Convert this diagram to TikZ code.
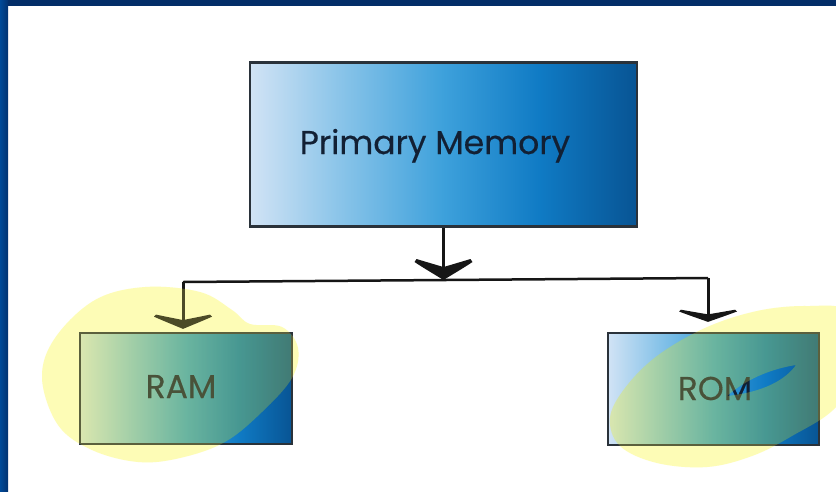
\documentclass[tikz,border=0pt]{standalone}
\usepackage{fontspec}
\setmainfont{Poppins}[FakeBold=0.4]
\usetikzlibrary{arrows.meta}
\definecolor{frametop}{RGB}{3,46,104}
\definecolor{frameL}{RGB}{0,74,152}
\definecolor{frameR}{RGB}{2,50,112}
\definecolor{boxline}{RGB}{42,50,58}
\definecolor{inkline}{RGB}{22,22,22}
\definecolor{labelink}{RGB}{18,32,52}
\definecolor{hlbase}{RGB}{255,255,205}
\definecolor{hltop}{RGB}{250,245,110}
\pgfdeclarehorizontalshading{memshade}{100bp}{
  rgb(0bp)=(0.82,0.89,0.96);
  rgb(25bp)=(0.82,0.89,0.96);
  rgb(37.5bp)=(0.52,0.76,0.91);
  rgb(50bp)=(0.24,0.63,0.86);
  rgb(62.5bp)=(0.06,0.48,0.77);
  rgb(75bp)=(0.03,0.33,0.58);
  rgb(100bp)=(0.03,0.33,0.58)}
\tikzset{
  membox/.style={draw=boxline, line width=2.2pt, shading=memshade, inner sep=0pt},
  boxlabel/.style={text=labelink, font=\fontsize{33}{40}\selectfont, inner sep=0pt, anchor=base},
  conn/.style={draw=inkline, line width=3pt},
  hconn/.style={draw=inkline, line width=2.5pt},
  arrowhead/.pic={
    \fill[inkline] (0,0) .. controls (-8,-5) and (-20,-12) .. (-29,-18)
      -- (-27,-21) .. controls (-17,-18) and (-7,-15) .. (0,-13)
      .. controls (7,-15) and (17,-18) .. (27,-21)
      -- (29,-18) .. controls (20,-12) and (8,-5) .. (0,0) -- cycle;
  },
}
\begin{document}
\begin{tikzpicture}[x=1pt,y=-1pt]
\useasboundingbox (0,0) rectangle (836,491);
\clip (0,0) rectangle (836,491);
\fill[white] (0,0) rectangle (836,491);
% frame
\fill[frametop] (0,0) rectangle (836,6);
\shade[left color=frameL, right color=frameR] (0,0) rectangle (8,491);

% boxes
\node[membox, minimum width=387pt, minimum height=164pt] (pm) at (443.5,144.5) {};
\node[membox, minimum width=212pt, minimum height=111pt] (ram) at (186,388.5) {};
\node[membox, minimum width=211pt, minimum height=112pt] (rom) at (713.5,389) {};

\node[boxlabel] (pmtext) at (435,154) {Primary Memory};
\node[boxlabel] (ramtext) at (181,398) {RAM};
\node[boxlabel] (romtext) at (715,400) {ROM};

% connectors
\coordinate (j) at (443.5,280);
\coordinate (jl) at (183,282);
\coordinate (jr) at (708,278);
\coordinate (ramtip) at ([yshift=3pt]jl |- ram.north);
\coordinate (romtip) at ([yshift=10pt]jr |- rom.north);
\draw[conn] (pm.south) -- ([yshift=10pt]j);
\pic at (j) {arrowhead};
\draw[hconn] (jl) -- (jr);
\draw[conn] (jl) -- ([yshift=7pt]ramtip);
\pic[yscale=0.68] at (ramtip) {arrowhead};
\draw[conn] (jr) -- ([yshift=6pt]romtip);
\pic[yscale=0.58] at (romtip) {arrowhead};

% highlighter blobs
\foreach \c/\o/\b in {hlbase/1/multiply, hltop/0.24/normal} {
  \begin{scope}[blend mode=\b]
  \fill[\c, opacity=\o] plot[smooth cycle, tension=0.6] coordinates {
    (42,378) (55,338) (95,300) (145,287) (200,292) (232,310) (250,324)
    (282,327) (298,348) (292,378) (262,412) (225,442) (180,458) (138,462)
    (92,450) (58,425)};
  \fill[\c, opacity=\o, even odd rule] plot[smooth cycle, tension=0.6] coordinates {
    (610,418) (625,388) (657,356) (705,328) (757,311) (807,306) (850,312)
    (862,360) (836,407) (792,436) (752,456) (707,467) (657,463) (620,446)}
    (727,396) .. controls (745,380) and (770,369) .. (796,365)
    .. controls (786,379) and (765,392) .. (727,396) -- cycle;
  \end{scope}
}
\end{tikzpicture}
\end{document}
